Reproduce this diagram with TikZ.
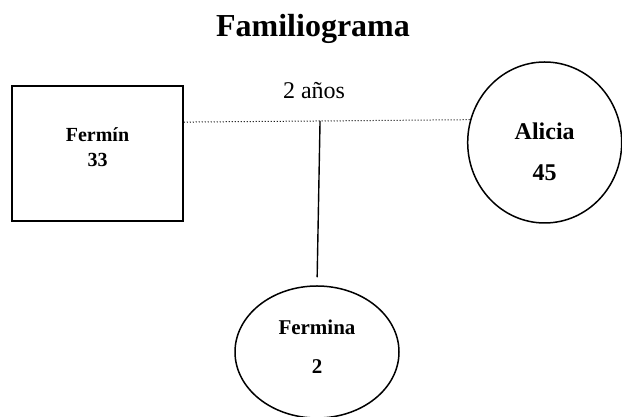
\documentclass[tikz,border=0pt]{standalone}
\usepackage{fontspec}
\setmainfont{Liberation Serif}
\usetikzlibrary{calc,shapes.geometric}

\begin{document}
\begin{tikzpicture}[x=1pt,y=1pt,
        persona/.style={draw, line width=1.5pt, align=center, inner sep=0pt}]
        \useasboundingbox (0,0) rectangle (622,417);

        \node[anchor=base, font=\fontsize{32}{38}\selectfont\bfseries](titulo) at (313,380) {Familiograma};

        \node[persona, rectangle, minimum width=171pt, minimum height=135pt, text depth=12pt,
              font=\fontsize{20}{25}\selectfont\bfseries](fermin) at (97.5,263.5) {Fermín\\33};
        \node[persona, ellipse, minimum width=154pt, minimum height=161pt, text height=77pt,
              font=\fontsize{24}{41}\selectfont\bfseries](alicia) at (544.7,274.5) {Alicia\\45};
        \node[persona, ellipse, minimum width=164pt, minimum height=132pt, text depth=11pt,
              font=\fontsize{21}{39}\selectfont\bfseries](fermina) at (317,65) {Fermina\\2};

        \draw[line width=1pt, dash pattern=on 1pt off 2pt] (fermin.20.8) -- (alicia.163.8);
        \coordinate (union) at ($(fermin.20.8)!.476!(alicia.163.8)$);
        \draw[line width=1.4pt, shorten >=8pt] (union) -- (fermina.north);

        \node[anchor=base, font=\fontsize{24}{29}\selectfont](anos) at (314,318) {2 años};
    \end{tikzpicture}
\end{document}
